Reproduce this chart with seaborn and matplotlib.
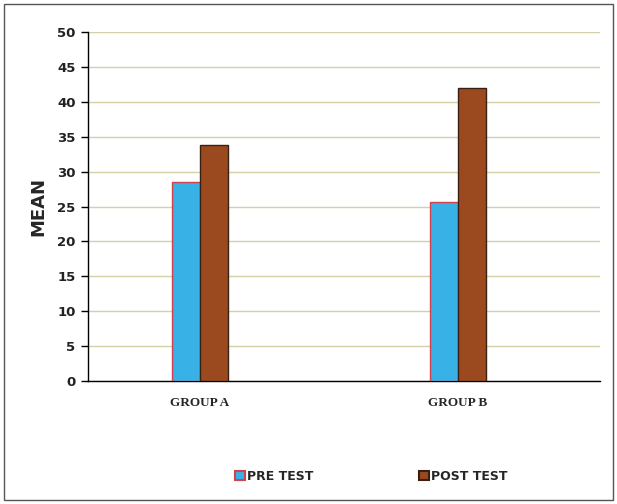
import matplotlib
matplotlib.use("Agg")
import matplotlib.pyplot as plt
import seaborn as sns
import pandas as pd
from matplotlib.patches import Rectangle

groups = ["GROUP A", "GROUP B"]
tests = ["PRE TEST", "POST TEST"]
pre_test = [28.5, 25.7]
post_test = [33.8, 42.0]

df = pd.DataFrame({
    "Group": groups * 2,
    "Test": [tests[0]] * 2 + [tests[1]] * 2,
    "Mean": pre_test + post_test,
})

sns.set_style("white")
plt.rcParams['font.family'] = ['DejaVu Sans']

fig = plt.figure(figsize=(6.17, 5.04), dpi=100)
ax = fig.add_axes([0.1426, 0.244, 0.8298, 0.6925])

colors = {"PRE TEST": "#38b2e6", "POST TEST": "#9a4a1e"}
sns.barplot(data=df, x="Group", y="Mean", hue="Test", palette=colors,
            width=0.22, ax=ax, saturation=1, legend=False, zorder=3)

edges = {"PRE TEST": "#d2414f", "POST TEST": "#3a2010"}
for cont, t in zip(ax.containers, tests):
    for bar in cont:
        bar.set_edgecolor(edges[t])
        bar.set_linewidth(1.0)

ax.set_ylim(0, 50)
ax.set_xlim(-0.434, 1.55)
ax.set_yticks(range(0, 51, 5))
ax.yaxis.grid(True, color="#d6d0a8", linewidth=1.0, zorder=0)
ax.set_axisbelow(True)
for s in ["top", "right"]:
    ax.spines[s].set_visible(False)
for s in ["left", "bottom"]:
    ax.spines[s].set_color("black")
    ax.spines[s].set_linewidth(1.0)
ax.tick_params(axis="y", left=True, length=5, width=1, color="black",
               labelsize=9.5, pad=4)
ax.tick_params(axis="x", bottom=False, pad=8)
for lbl in ax.get_yticklabels():
    lbl.set_fontweight("bold")
    lbl.set_color("#222222")
ax.set_xticks([0, 1])
ax.set_xticklabels(groups, family="Liberation Serif", fontweight="bold", fontsize=9.5)
ax.set_xlabel("")
ax.set_ylabel("MEAN", fontsize=13, fontweight="bold", labelpad=7)

handles = [Rectangle((0, 0), 1, 1, facecolor=colors[t], edgecolor=edges[t], linewidth=1.5)
           for t in tests]
fig.legend(handles, tests, loc="center", bbox_to_anchor=(0.602, 0.055), ncol=2,
           frameon=False, prop={"weight": "bold", "size": 9},
           handlelength=0.8, handleheight=0.8, handletextpad=0.2, columnspacing=8.4)

fig.patches.append(Rectangle((0.006, 0.008), 0.988, 0.985, transform=fig.transFigure,
                             fill=False, edgecolor="#555555", linewidth=1.0))

plt.savefig("out.png", dpi=100)
plt.close()
